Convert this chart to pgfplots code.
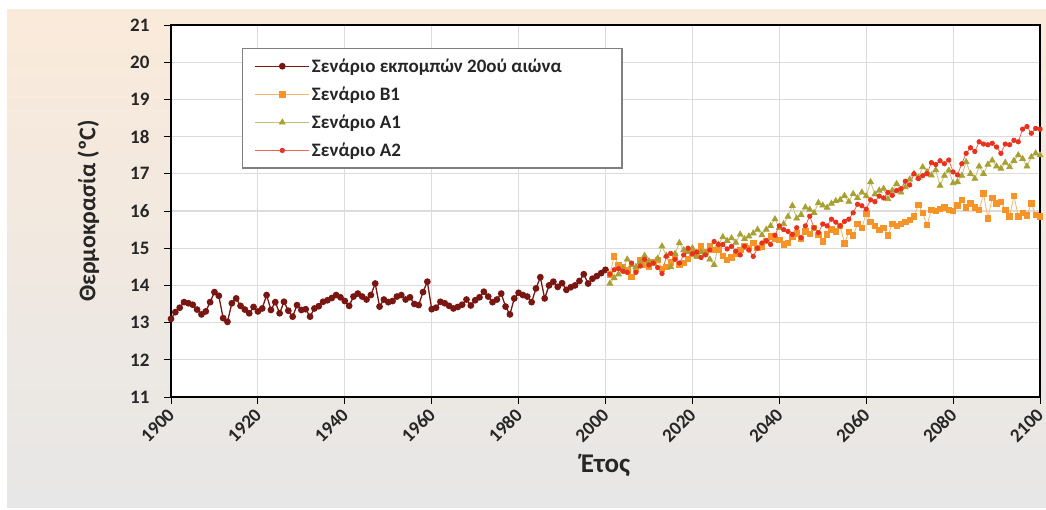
\documentclass[border=0pt]{standalone}
\usepackage{fontspec}
\setmainfont{Carlito}
\usepackage{pgfplots}
\pgfplotsset{compat=1.18}
\usepackage{pgfplotstable}

\definecolor{histc}{RGB}{122,22,18}
\definecolor{bonec}{RGB}{247,148,40}
\definecolor{aonec}{RGB}{168,160,50}
\definecolor{atwoc}{RGB}{232,50,30}
\definecolor{topbg}{RGB}{250,234,218}
\definecolor{botbg}{RGB}{231,231,231}
\definecolor{gridc}{RGB}{220,220,220}

\pgfplotstableread{
y t
1900 13.10
1901 13.28
1902 13.40
1903 13.55
1904 13.52
1905 13.48
1906 13.35
1907 13.22
1908 13.30
1909 13.55
1910 13.82
1911 13.72
1912 13.12
1913 13.02
1914 13.52
1915 13.65
1916 13.45
1917 13.35
1918 13.25
1919 13.42
1920 13.30
1921 13.38
1922 13.74
1923 13.34
1924 13.55
1925 13.25
1926 13.56
1927 13.32
1928 13.16
1929 13.47
1930 13.34
1931 13.36
1932 13.16
1933 13.38
1934 13.44
1935 13.56
1936 13.60
1937 13.66
1938 13.74
1939 13.68
1940 13.58
1941 13.45
1942 13.70
1943 13.78
1944 13.70
1945 13.62
1946 13.74
1947 14.05
1948 13.43
1949 13.62
1950 13.55
1951 13.58
1952 13.70
1953 13.74
1954 13.62
1955 13.68
1956 13.50
1957 13.47
1958 13.82
1959 14.10
1960 13.36
1961 13.40
1962 13.56
1963 13.52
1964 13.45
1965 13.38
1966 13.42
1967 13.48
1968 13.62
1969 13.46
1970 13.60
1971 13.68
1972 13.83
1973 13.70
1974 13.55
1975 13.62
1976 13.78
1977 13.43
1978 13.22
1979 13.65
1980 13.80
1981 13.74
1982 13.70
1983 13.55
1984 13.92
1985 14.22
1986 13.65
1987 14.00
1988 14.10
1989 13.96
1990 14.06
1991 13.88
1992 13.95
1993 14.00
1994 14.12
1995 14.30
1996 14.05
1997 14.18
1998 14.25
1999 14.33
2000 14.42
}\histtable

\pgfplotstableread{
y t
2001 14.30
2002 14.78
2003 14.55
2004 14.50
2005 14.40
2006 14.23
2007 14.45
2008 14.68
2009 14.55
2010 14.50
2011 14.62
2012 14.68
2013 14.45
2014 14.50
2015 14.62
2016 14.78
2017 14.55
2018 14.60
2019 14.72
2020 14.86
2021 14.80
2022 15.05
2023 14.90
2024 15.05
2025 14.95
2026 14.95
2027 14.80
2028 14.68
2029 14.75
2030 14.86
2031 14.95
2032 15.05
2033 15.00
2034 15.14
2035 15.00
2036 15.05
2037 15.20
2038 15.32
2039 15.25
2040 15.23
2041 15.10
2042 15.14
2043 15.30
2044 15.40
2045 15.25
2046 15.45
2047 15.38
2048 15.54
2049 15.35
2050 15.18
2051 15.37
2052 15.50
2053 15.45
2054 15.60
2055 15.13
2056 15.43
2057 15.34
2058 15.65
2059 15.55
2060 15.93
2061 15.70
2062 15.60
2063 15.49
2064 15.55
2065 15.34
2066 15.65
2067 15.60
2068 15.65
2069 15.70
2070 15.76
2071 15.85
2072 16.17
2073 15.95
2074 15.62
2075 16.03
2076 16.00
2077 16.05
2078 16.10
2079 16.03
2080 16.00
2081 16.15
2082 16.30
2083 16.10
2084 16.20
2085 16.10
2086 16.03
2087 16.47
2088 15.80
2089 16.35
2090 16.20
2091 16.25
2092 16.03
2093 15.85
2094 16.41
2095 15.85
2096 15.95
2097 15.88
2098 16.20
2099 15.90
2100 15.85
}\bonetable

\pgfplotstableread{
y t
2001 14.05
2002 14.20
2003 14.30
2004 14.45
2005 14.70
2006 14.55
2007 14.50
2008 14.62
2009 14.80
2010 14.65
2011 14.60
2012 14.72
2013 15.05
2014 14.80
2015 14.50
2016 14.85
2017 15.14
2018 14.95
2019 14.90
2020 15.00
2021 14.78
2022 14.90
2023 14.86
2024 14.70
2025 14.55
2026 15.10
2027 15.30
2028 15.20
2029 15.27
2030 15.15
2031 15.37
2032 15.25
2033 15.32
2034 15.40
2035 15.50
2036 15.35
2037 15.50
2038 15.60
2039 15.78
2040 15.55
2041 15.65
2042 15.85
2043 16.14
2044 15.80
2045 15.90
2046 16.10
2047 16.04
2048 15.95
2049 16.22
2050 16.15
2051 16.09
2052 16.20
2053 16.27
2054 16.30
2055 16.41
2056 16.25
2057 16.46
2058 16.35
2059 16.50
2060 16.40
2061 16.78
2062 16.45
2063 16.55
2064 16.60
2065 16.32
2066 16.55
2067 16.73
2068 16.50
2069 16.64
2070 16.85
2071 17.00
2072 16.90
2073 17.18
2074 17.05
2075 16.96
2076 17.10
2077 16.68
2078 16.95
2079 17.09
2080 16.75
2081 16.78
2082 16.95
2083 17.32
2084 17.00
2085 16.87
2086 17.20
2087 17.00
2088 17.25
2089 17.36
2090 17.20
2091 17.14
2092 17.30
2093 17.18
2094 17.35
2095 17.50
2096 17.40
2097 17.20
2098 17.45
2099 17.55
2100 17.50
}\aonetable

\pgfplotstableread{
y t
2001 14.30
2002 14.42
2003 14.45
2004 14.38
2005 14.35
2006 14.60
2007 14.35
2008 14.52
2009 14.70
2010 14.55
2011 14.60
2012 14.48
2013 14.32
2014 14.78
2015 14.86
2016 14.70
2017 14.60
2018 14.82
2019 15.00
2020 14.85
2021 14.90
2022 14.75
2023 14.82
2024 14.95
2025 15.18
2026 15.10
2027 15.10
2028 14.98
2029 15.05
2030 14.92
2031 14.82
2032 15.05
2033 14.95
2034 14.78
2035 15.00
2036 15.14
2037 15.20
2038 15.10
2039 15.35
2040 15.60
2041 15.50
2042 15.45
2043 15.37
2044 15.55
2045 15.28
2046 15.60
2047 15.86
2048 15.55
2049 15.42
2050 15.65
2051 15.60
2052 15.78
2053 15.70
2054 15.60
2055 15.72
2056 15.78
2057 15.95
2058 16.18
2059 16.14
2060 16.05
2061 16.30
2062 16.25
2063 16.40
2064 16.35
2065 16.50
2066 16.42
2067 16.55
2068 16.60
2069 16.80
2070 16.70
2071 17.00
2072 16.87
2073 16.95
2074 17.00
2075 17.30
2076 17.25
2077 17.35
2078 17.27
2079 17.37
2080 17.05
2081 16.97
2082 17.27
2083 17.55
2084 17.70
2085 17.60
2086 17.86
2087 17.80
2088 17.78
2089 17.82
2090 17.72
2091 17.55
2092 17.80
2093 17.78
2094 17.90
2095 17.86
2096 18.20
2097 18.27
2098 18.09
2099 18.22
2100 18.20
}\atwotable

\begin{document}
\begin{tikzpicture}[x=1pt,y=1pt]
\fill[white] (0,0) rectangle (1046,510);
\shade[top color=topbg, bottom color=botbg] (7,2) rectangle (1046,500);
\useasboundingbox (0,0) rectangle (1046,510);
\begin{axis}[
  at={(171pt,113pt)}, anchor=south west,
  scale only axis, width=869pt, height=372pt,
  xmin=1900, xmax=2100, ymin=11, ymax=21,
  xtick={1900,1920,...,2100}, ytick={11,12,...,21},
  xtick pos=bottom, ytick pos=left,
  tick align=outside, major tick length=7pt,
  tick style={black, line width=0.9pt},
  grid=major, major grid style={gridc, line width=1.1pt},
  axis line style={black, line width=1.8pt},
  axis background/.style={fill=white},
  /pgf/number format/assume math mode=true,
  /pgf/number format/1000 sep={},
  yticklabel style={font=\bfseries\fontsize{19}{22}\selectfont, text=black!85, xshift=-11pt},
  xticklabel shift=7pt,
  xticklabel style={font=\bfseries\fontsize{19}{22}\selectfont, text=black!85, xshift=1pt, rotate=45, anchor=east, inner sep=1pt},
  xlabel={Έτος}, ylabel={Θερμοκρασία (ºC)},
  every axis x label/.style={at={(axis description cs:0.5,-0.183)}, anchor=center,
     font=\bfseries\fontsize{27}{30}\selectfont, text=black!85},
  every axis y label/.style={at={(axis description cs:-0.095,0.5)}, anchor=center, rotate=90,
     font=\bfseries\fontsize{24}{28}\selectfont, text=black!85},
  legend cell align=left,
  legend style={at={(0.0817,0.938)}, anchor=north west, draw=black!50, line width=1.3pt, fill=white,
    font=\bfseries\fontsize{19}{22}\selectfont, row sep=9pt, inner xsep=12pt, inner ysep=8pt, text=black!85},
  legend image code/.code={\draw[mark repeat=2, mark phase=2, #1] plot coordinates {(0pt,0pt) (27pt,0pt) (54pt,0pt)};},
]
\addplot[histc, line width=1.3pt, mark=*, mark size=2.7pt] table[x=y, y=t]{\histtable};
\addlegendentry{\makebox[296pt][l]{Σενάριο εκπομπών 20ού αιώνα}}
\addplot[bonec!70, line width=0.8pt, mark=square*, mark size=2.7pt, mark options={draw=bonec, fill=bonec}] table[x=y, y=t]{\bonetable};
\addlegendentry{Σενάριο B1}
\addplot[aonec!65, line width=0.8pt, mark=triangle*, mark size=3.3pt, mark options={draw=aonec, fill=aonec}] table[x=y, y=t]{\aonetable};
\addlegendentry{Σενάριο A1}
\addplot[atwoc!75, line width=0.8pt, mark=*, mark size=2.2pt, mark options={draw=atwoc, fill=atwoc}] table[x=y, y=t]{\atwotable};
\addlegendentry{Σενάριο A2}
\end{axis}
\end{tikzpicture}
\end{document}
